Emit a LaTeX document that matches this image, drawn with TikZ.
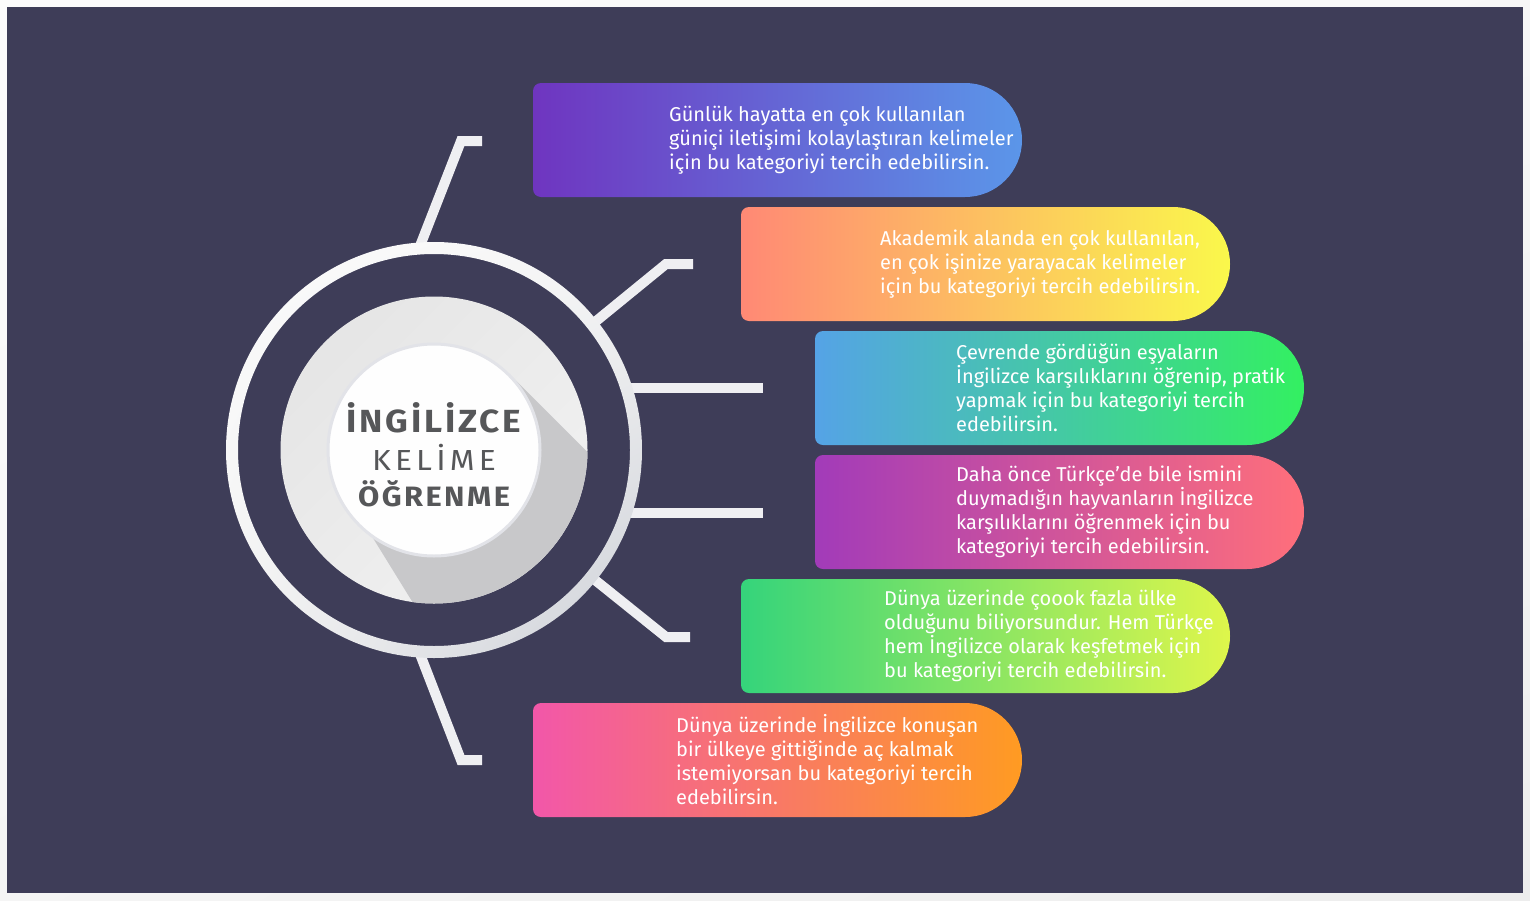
\documentclass[tikz,border=0pt]{standalone}
\usepackage{fontspec}
\usepackage{graphicx}
\setmainfont{Fira Sans}
\newfontfamily\titlefont[LetterSpace=8]{Fira Sans}
\newfontfamily\titlewide[LetterSpace=13]{Fira Sans}
\usetikzlibrary{calc,shadings}

\definecolor{bgdark}{HTML}{3E3D58}
\definecolor{linkgray}{HTML}{EFEFF2}
\definecolor{titlegray}{HTML}{565759}
\definecolor{shadowgray}{HTML}{C8C8CA}
\definecolor{discedge}{HTML}{E2E3E8}
\definecolor{ringdark}{HTML}{CDD0D7}
\definecolor{cardAl}{HTML}{6F35C0}\definecolor{cardAr}{HTML}{5B96E9}
\definecolor{cardBl}{HTML}{FF8975}\definecolor{cardBr}{HTML}{FAF84B}
\definecolor{cardCl}{HTML}{55A3E6}\definecolor{cardCr}{HTML}{33F061}
\definecolor{cardDl}{HTML}{A23BB9}\definecolor{cardDr}{HTML}{FF6F7B}
\definecolor{cardEl}{HTML}{35D47B}\definecolor{cardEr}{HTML}{DEF64B}
\definecolor{cardFl}{HTML}{F257A9}\definecolor{cardFr}{HTML}{FF9B22}

\tikzset{
  link/.style={draw=linkgray, line width=10pt, line join=miter},
  cardtext/.style={anchor=west, align=left, inner sep=0pt, text=white,
    font=\fontsize{20}{24}\selectfont},
  titleline/.style={anchor=base, inner sep=0pt, text=titlegray},
}

% capsule card: x0, y0, left colour, right colour
\newcommand\capsulecard[4]{%
  \shade[left color=#3, right color=#4]
    ({#1+8},{#2}) -- ({#1+432},{#2})
    arc[start angle=90, end angle=-90, radius=57pt]
    -- ({#1+8},{#2+114})
    arc[start angle=270, end angle=180, radius=8pt]
    -- ({#1},{#2+8})
    arc[start angle=180, end angle=90, radius=8pt] -- cycle;}

\begin{document}
\begin{tikzpicture}[x=1pt, y=-1pt]
  % frame and dark panel
  \shade[upper left=white!98!gray, upper right=white!94!gray,
         lower left=white!92!gray, lower right=white!86!gray]
    (0,0) rectangle (1530,900);
  \fill[bgdark] (7,7) rectangle (1523,893);

  % cards
  \capsulecard{533}{83}{cardAl}{cardAr}
  \capsulecard{741}{207}{cardBl}{cardBr}
  \capsulecard{815}{331}{cardCl}{cardCr}
  \capsulecard{815}{455}{cardDl}{cardDr}
  \capsulecard{741}{579}{cardEl}{cardEr}
  \capsulecard{533}{703}{cardFl}{cardFr}

  % connector geometry
  \coordinate (c) at (434,450);
  \coordinate (a1) at (420,246); \coordinate (b1) at (461,141); \coordinate (e1) at (482,141);
  \coordinate (a2) at (595,322); \coordinate (b2) at (666,264); \coordinate (e2) at (693,264);
  \coordinate (a3) at (626,388); \coordinate (e3) at (763,388);
  \coordinate (a4) at (626,513); \coordinate (e4) at (763,513);
  \coordinate (a5) at (595,580); \coordinate (b5) at (666,637); \coordinate (e5) at (690,637);
  \coordinate (a6) at (420,654); \coordinate (b6) at (461,760); \coordinate (e6) at (482,760);

  \draw[link] (a1) -- (b1) -- (e1);
  \draw[link] (a2) -- (b2) -- (e2);
  \draw[link] (a3) -- (e3);
  \draw[link] (a4) -- (e4);
  \draw[link] (a5) -- (b5) -- (e5);
  \draw[link] (a6) -- (b6) -- (e6);

  % outer ring
  \shade[even odd rule, upper left=white!97!gray, upper right=white!93!gray,
         lower left=white!91!gray, lower right=ringdark]
    (c) circle[radius=208pt] (c) circle[radius=196pt];

  % grey disc with long shadow
  \shade[top color=white!80!gray, middle color=white!96!gray,
         bottom color=white!89!gray, shading angle=45]
    (c) circle[radius=153.5pt];
  \begin{scope}
    \clip (c) circle[radius=153.5pt];
    \fill[shadowgray] (509.7,374.3) -- (809.7,674.3) -- (560,841)
      -- (360,517) -- cycle;
  \end{scope}

  % white centre disc
  \fill[white!99!gray, draw=discedge, line width=3pt]
    (c) circle[radius=106pt];

  % title
  \node[titleline, font=\titlefont\bfseries\fontsize{32}{32}\selectfont]
    (title1) at (434,432) {\scalebox{1.1}[1]{İNGİLİZCE}};
  \node[titleline, font=\titlewide\fontsize{29}{29}\selectfont]
    (title2) at (434,470) {\scalebox{1.1}[1]{KELİME}};
  \node[titleline, font=\titlefont\bfseries\fontsize{28}{28}\selectfont]
    (title3) at (434,506) {\scalebox{1.1}[1]{ÖĞRENME}};

  % card texts
  \node[cardtext] (t1) at (669,140) {Günlük hayatta en çok kullanılan\\güniçi iletişimi kolaylaştıran kelimeler\\için bu kategoriyi tercih edebilirsin.};
  \node[cardtext] (t2) at (880,264) {Akademik alanda en çok kullanılan,\\en çok işinize yarayacak kelimeler\\için bu kategoriyi tercih edebilirsin.};
  \node[cardtext] (t3) at (956,388) {Çevrende gördüğün eşyaların\\İngilizce karşılıklarını öğrenip, pratik\\yapmak için bu kategoriyi tercih\\edebilirsin.};
  \node[cardtext] (t4) at (956,512) {Daha önce Türkçe’de bile ismini\\duymadığın hayvanların İngilizce\\karşılıklarını öğrenmek için bu\\kategoriyi tercih edebilirsin.};
  \node[cardtext] (t5) at (884,636) {Dünya üzerinde çoook fazla ülke\\olduğunu biliyorsundur. Hem Türkçe\\hem İngilizce olarak keşfetmek için\\bu kategoriyi tercih edebilirsin.};
  \node[cardtext] (t6) at (676,760) {Dünya üzerinde İngilizce konuşan\\bir ülkeye gittiğinde aç kalmak\\istemiyorsan bu kategoriyi tercih\\edebilirsin.};
\end{tikzpicture}
\end{document}
